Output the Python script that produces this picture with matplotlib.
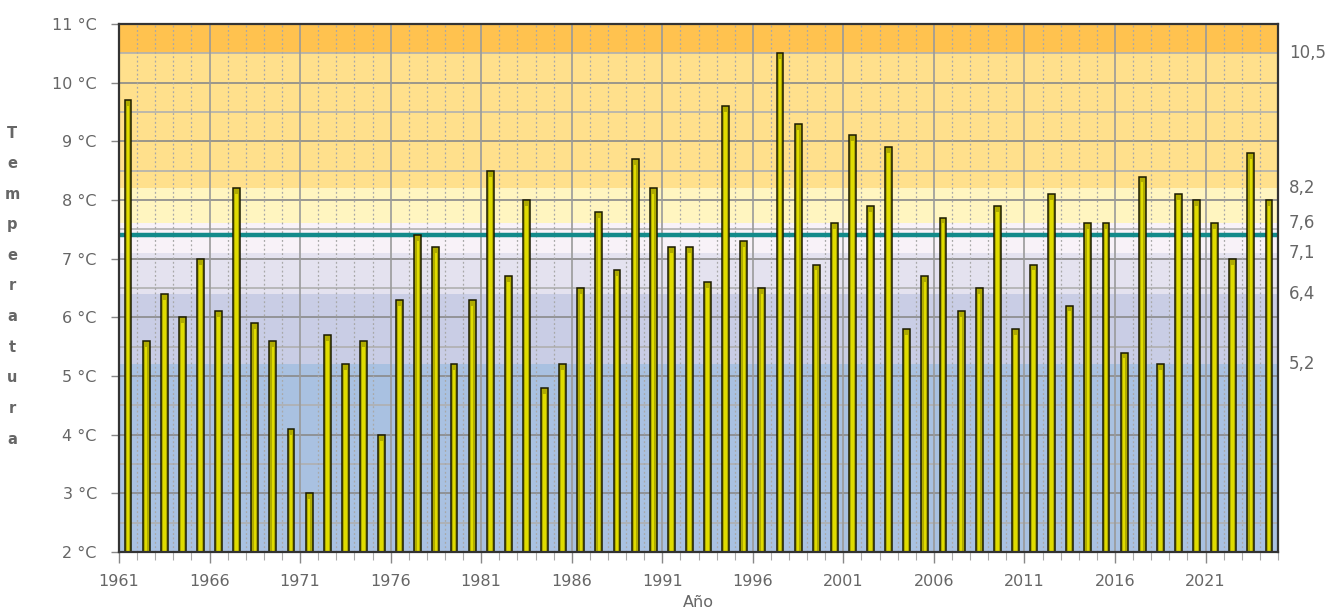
import numpy as np
import matplotlib
matplotlib.use("Agg")
import matplotlib.pyplot as plt
from matplotlib.ticker import MultipleLocator, FixedLocator

# Temperatura media anual por año
years = list(range(1961, 2025))
temps = [9.7, 5.6, 6.4, 6.0, 7.0, 6.1, 8.2, 5.9, 5.6, 4.1,
         3.0, 5.7, 5.2, 5.6, 4.0, 6.3, 7.4, 7.2, 5.2, 6.3,
         8.5, 6.7, 8.0, 4.8, 5.2, 6.5, 7.8, 6.8, 8.7, 8.2,
         7.2, 7.2, 6.6, 9.6, 7.3, 6.5, 10.5, 9.3, 6.9, 7.6,
         9.1, 7.9, 8.9, 5.8, 6.7, 7.7, 6.1, 6.5, 7.9, 5.8,
         6.9, 8.1, 6.2, 7.6, 7.6, 5.4, 8.4, 5.2, 8.1, 8.0,
         7.6, 7.0, 8.8, 8.0]
mean_temp = 7.4

# franjas de color (límites y colores)
band_edges = [2.0, 5.2, 6.4, 7.1, 7.6, 8.2, 10.5, 11.0]
band_colors = ["#a9c1e1", "#c9cde5", "#e4e2ef", "#f8f2f8",
               "#fff5c0", "#ffe08c", "#ffc24f"]
right_labels = ["10,5", "8,2", "7,6", "7,1", "6,4", "5,2"]
right_values = [10.5, 8.2, 7.6, 7.1, 6.4, 5.2]

fig = plt.figure(figsize=(13.28, 6.15), dpi=100)
ax = fig.add_axes([119 / 1328, 63 / 615, 1159 / 1328, 528 / 615])

x0, x1 = 1961, 2025
for lo, hi, c in zip(band_edges[:-1], band_edges[1:], band_colors):
    ax.axhspan(lo, hi, color=c, zorder=0, lw=0)

# rejilla
for v in np.arange(2.5, 11, 0.5):
    col = "#8a8a8a" if v == int(v) else "#b0b0b0"
    ax.axhline(v, color=col, lw=1.2, zorder=1)
for yr in range(x0, x1 + 1):
    if (yr - 1961) % 5 == 0:
        ax.axvline(yr, color="#9a9a9a", lw=1.2, zorder=1)
    else:
        ax.axvline(yr, color="#a8a8a8", lw=0.9, ls=(0, (1.5, 2)), zorder=1)

ax.axhline(mean_temp, color="#138a8a", lw=3.2, zorder=2)

xs = np.array(years) + 0.5
ax.bar(xs, np.array(temps) - 2.0, bottom=2.0, width=0.38,
       color="#b0ac00", edgecolor="#1a1a00", lw=1.1, zorder=3)
ax.bar(xs, np.array(temps) - 2.1, bottom=2.0, width=0.14,
       color="#e0dc00", lw=0, zorder=4)

ax.set_xlim(x0, x1)
ax.set_ylim(2, 11)

ax.xaxis.set_major_locator(FixedLocator(range(1961, 2025, 5)))
ax.xaxis.set_minor_locator(MultipleLocator(1))
ax.set_yticks(range(2, 12))
ax.set_yticklabels([f"{v} °C" for v in range(2, 12)])
ax.tick_params(axis="both", colors="#666666", labelsize=11.5)
ax.tick_params(axis="x", which="major", length=8, width=1, color="#888888", pad=8)
ax.tick_params(axis="x", which="minor", length=6, width=0.8, color="#aaaaaa")
ax.tick_params(axis="y", which="major", length=6, width=1, color="#888888", pad=10)
for t in ax.xaxis.get_minorticklines():
    t.set_linestyle((0, (1, 1.5)))

for s in ax.spines.values():
    s.set_color("#333333")
    s.set_linewidth(1.6)
    s.set_zorder(5)

for v, lab in zip(right_values, right_labels):
    ax.text(1.0095, v, lab, transform=ax.get_yaxis_transform(),
            ha="left", va="center", fontsize=12, color="#666666")

fig.text(12 / 1328, 1 - 286 / 615, "\n".join("Temperatura"), ha="center", va="center",
         fontsize=10.5, fontweight="bold", color="#666666", linespacing=2.3)
ax.set_xlabel("Año", fontsize=11.5, color="#666666", labelpad=4)

fig.savefig("out.png", dpi=100)
